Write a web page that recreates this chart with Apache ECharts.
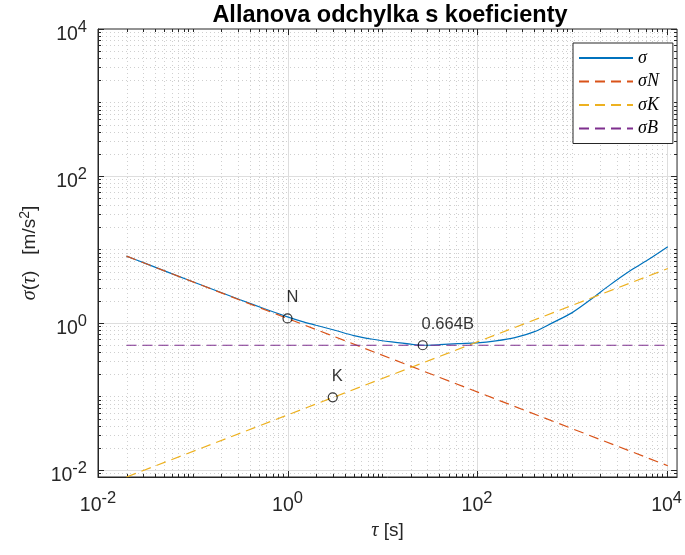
<!DOCTYPE html>
<html>
<head>
<meta charset="utf-8">
<script src="https://cdn.jsdelivr.net/npm/echarts@6/dist/echarts.min.js"></script>
<style>
    html, body { margin: 0; padding: 0; background: #fff; }
    #chart { width: 685px; height: 555px; }
</style>
</head>
<body>
<div id="chart"></div>
<script>
// allan deviation - log/log
const tauSigma = [0.02, 0.0316, 0.1, 0.316, 0.562, 1, 1.41, 2, 3.16, 5, 7.94, 12.6, 20, 28, 40, 63,
    100, 158, 251, 398, 631, 1000, 1585, 2512, 3981, 6310, 10300];
const sigma = [8.1, 6.45, 3.64, 2.07, 1.57, 1.21, 1.05, 0.93, 0.795, 0.673, 0.60, 0.551, 0.513, 0.497,
    0.505, 0.522, 0.534, 0.569, 0.63, 0.754, 1.01, 1.37, 2.08, 3.27, 4.97, 7.17, 10.9];

const tauLine = [0.02, 10300];
const sigmaN = [8.1, 0.0114];
const sigmaK = [0.0080, 5.5];
const sigmaB = [0.497, 0.497];

const markTau = [1, 26.7, 3];
const markVal = [1.15, 0.497, 0.097];
const markText = ['N', '0.664B', 'K'];

const seriesNames = ['\u03c3', '\u03c3N', '\u03c3K', '\u03c3B'];
const seriesColors = ['#0072BD', '#D95319', '#EDB120', '#7E2F8E'];

const xMin = 0.01, xMax = 12900;
const yMin = 0.0080, yMax = 10000;

const sans = 'Liberation Sans, Arial, Helvetica, sans-serif';
const serif = 'Liberation Serif, Times New Roman, serif';
const axisColor = '#262626';

function pairs(xs, ys) {
    return xs.map((x, i) => [x, ys[i]]);
}

// grid positions 1..9 x 10^e inside the range
function logGrid(lo, hi) {
    const out = [];
    for (let e = Math.floor(Math.log10(lo)); e <= Math.ceil(Math.log10(hi)); e++) {
        for (let k = 1; k <= 9; k++) {
            const v = k * Math.pow(10, e);
            if (v >= lo * 0.9999 && v <= hi * 1.0001) out.push({ v: v, major: k === 1 && e % 2 === 0 });
        }
    }
    return out;
}
const xGrid = logGrid(xMin, xMax);
const yGrid = logGrid(yMin, yMax);

function tickLabel(v) {
    const e = Math.log10(v);
    const r = Math.round(e);
    if (Math.abs(e - r) > 1e-6 || r % 2 !== 0) return '';
    return '{b|10}{s|' + (r < 0 ? '-' + (-r) : r) + '}';
}

const labelRich = {
    b: { fontSize: 19.5, fontFamily: sans, color: axisColor, verticalAlign: 'bottom', lineHeight: 22 },
    s: { fontSize: 16.5, fontFamily: sans, color: axisColor, verticalAlign: 'bottom', lineHeight: 22, padding: [0, 0, 9, 0] },
};

function renderGrid(params, api) {
    const cs = params.coordSys;
    const left = cs.x, right = cs.x + cs.width, top = cs.y, bottom = cs.y + cs.height;
    const children = [];
    const dotted = { stroke: '#cfcfcf', lineWidth: 1, lineDash: [1, 3] };
    const solid = { stroke: '#dedede', lineWidth: 1 };
    const tick = { stroke: axisColor, lineWidth: 1 };

    xGrid.forEach(g => {
        const px = Math.round(api.coord([g.v, yMin])[0]) + 0.5;
        const len = g.major ? 6 : 3;
        if (px > left + 1 && px < right - 1) {
            children.push({ type: 'line', shape: { x1: px, y1: top, x2: px, y2: bottom }, style: g.major ? solid : dotted });
        }
        children.push({ type: 'line', shape: { x1: px, y1: bottom, x2: px, y2: bottom - len }, style: tick });
        children.push({ type: 'line', shape: { x1: px, y1: top, x2: px, y2: top + len }, style: tick });
    });
    yGrid.forEach(g => {
        const py = Math.round(api.coord([xMin, g.v])[1]) + 0.5;
        const len = g.major ? 6 : 3;
        if (py > top + 1 && py < bottom - 1) {
            children.push({ type: 'line', shape: { x1: left, y1: py, x2: right, y2: py }, style: g.major ? solid : dotted });
        }
        children.push({ type: 'line', shape: { x1: left, y1: py, x2: left + len, y2: py }, style: tick });
        children.push({ type: 'line', shape: { x1: right, y1: py, x2: right - len, y2: py }, style: tick });
    });
    return { type: 'group', children: children };
}

function lineSeries(name, data, color, dashed) {
    return {
        name: name,
        type: 'line',
        data: data,
        symbol: 'none',
        smooth: dashed ? false : 0.3,
        z: 3,
        lineStyle: { color: color, width: 1.2, type: dashed ? [10, 6] : 'solid' },
        itemStyle: { color: color },
    };
}

const chart = echarts.init(document.getElementById('chart'));
chart.setOption({
    animation: false,
    backgroundColor: '#fff',
    title: {
        text: 'Allanova odchylka s koeficienty',
        left: 390,
        top: 4,
        padding: 0,
        textAlign: 'center',
        textStyle: { fontFamily: sans, fontSize: 23.5, fontWeight: 'bold', color: '#000' },
    },
    grid: {
        left: 98, right: 5, top: 29, bottom: 78,
        show: true, borderColor: axisColor, borderWidth: 1,
    },
    legend: {
        data: seriesNames,
        orient: 'vertical',
        left: 573,
        top: 43,
        padding: [5, 14, 5, 5],
        itemWidth: 54,
        itemHeight: 14,
        itemGap: 3.5,
        backgroundColor: '#fff',
        borderColor: axisColor,
        borderWidth: 1,
        itemStyle: { opacity: 0 },
        textStyle: { fontFamily: serif, fontStyle: 'italic', fontSize: 18, lineHeight: 20, color: '#000' },
    },
    xAxis: {
        type: 'log',
        logBase: 10,
        min: xMin,
        max: xMax,
        name: '{i|\u03c4}{n| [s]}',
        nameLocation: 'middle',
        nameGap: 44,
        nameTextStyle: {
            rich: {
                i: { fontFamily: serif, fontStyle: 'italic', fontSize: 20, color: axisColor, lineHeight: 20 },
                n: { fontFamily: sans, fontSize: 19, color: axisColor, lineHeight: 20 },
            },
        },
        axisLine: { show: true, lineStyle: { color: axisColor } },
        axisTick: { show: false },
        splitLine: { show: false },
        axisLabel: { formatter: tickLabel, rich: labelRich, margin: 17 },
    },
    yAxis: {
        type: 'log',
        logBase: 10,
        min: yMin,
        max: yMax,
        name: '{i|\u03c3}{n|(}{i|\u03c4}{n|)   [m/s}{s|2}{n|]}',
        nameLocation: 'middle',
        nameGap: 53,
        nameRotate: 90,
        nameTextStyle: {
            rich: {
                i: { fontFamily: serif, fontStyle: 'italic', fontSize: 20, color: axisColor, lineHeight: 20, verticalAlign: 'bottom' },
                n: { fontFamily: sans, fontSize: 19, color: axisColor, lineHeight: 20, verticalAlign: 'bottom' },
                s: { fontFamily: sans, fontSize: 14, color: axisColor, lineHeight: 20, verticalAlign: 'bottom', padding: [0, 0, 8, 0] },
            },
        },
        axisLine: { show: true, lineStyle: { color: axisColor } },
        axisTick: { show: false },
        splitLine: { show: false },
        axisLabel: { formatter: tickLabel, rich: labelRich, margin: 11, padding: [10, 0, 0, 0] },
    },
    series: [
        {
            type: 'custom',
            renderItem: renderGrid,
            data: [[1, 1]],
            silent: true,
            z: 1,
        },
        lineSeries(seriesNames[0], pairs(tauSigma, sigma), seriesColors[0], false),
        lineSeries(seriesNames[1], pairs(tauLine, sigmaN), seriesColors[1], true),
        lineSeries(seriesNames[2], pairs(tauLine, sigmaK), seriesColors[2], true),
        lineSeries(seriesNames[3], pairs(tauLine, sigmaB), seriesColors[3], true),
        {
            name: 'marks',
            type: 'scatter',
            data: pairs(markTau, markVal),
            symbol: 'circle',
            symbolSize: 9,
            z: 4,
            itemStyle: { color: 'rgba(0,0,0,0)', borderColor: '#000', borderWidth: 1.2 },
            label: {
                show: true,
                position: [4, -24],
                formatter: p => markText[p.dataIndex],
                fontFamily: sans,
                fontSize: 16.5,
                color: '#000',
            },
        },
    ],
});
</script>
</body>
</html>
